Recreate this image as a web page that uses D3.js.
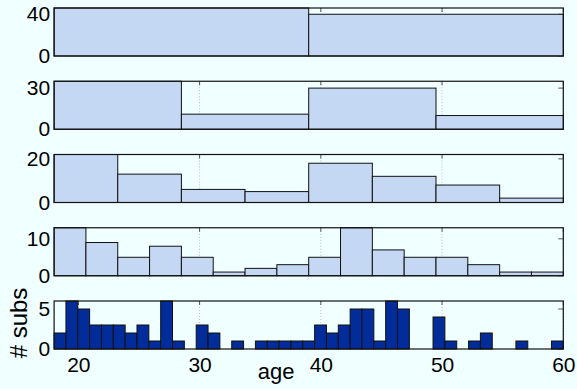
<!DOCTYPE html>
<html>
<head>
<meta charset="utf-8">
<script src="https://cdn.jsdelivr.net/npm/d3@7"></script>
<style>
  body { margin: 0; background: #f0ffff; }
  text { font-family: "Liberation Sans", Arial, Helvetica, sans-serif; fill: #000; }
</style>
</head>
<body>
<script>
// age histograms of the same subjects, binned 2, 4, 8, 16 and 43 ways
const ageMin = 18, ageMax = 60;
const counts2 = [46, 40];
const counts4 = [35, 11, 30, 10];
const counts8 = [22, 13, 6, 5, 18, 12, 8, 2];
const counts16 = [13, 9, 5, 8, 5, 1, 2, 3, 5, 13, 7, 5, 5, 3, 1, 1];
const counts43 = [2, 6, 5, 3, 3, 3, 2, 3, 1, 6, 1, 0, 3, 2, 0, 1, 0, 1, 1, 1,
                  1, 1, 3, 2, 3, 5, 5, 1, 6, 5, 0, 0, 4, 1, 0, 1, 2, 0, 0, 1,
                  0, 0, 1];
const panelCounts = [counts2, counts4, counts8, counts16, counts43];
const yMaxes = [46, 35, 22, 13, 6];
const yTickVals = [[0, 40], [0, 30], [0, 20], [0, 10], [0, 5]];
const xTickVals = [20, 30, 40, 50, 60];
const xLabel = "age", yLabel = "# subs";

let margin = null, width = null, panelH = null, panelStep = null;
let svg = null;
let x = null;

setupCanvasSize();
appendSvg("body");
setupXScale();
panelCounts.forEach((counts, i) => drawPanel(counts, i));
appendLabels();

function setupCanvasSize() {
  margin = {top: 8, left: 54.1, right: 13.7};
  width = 577 - margin.left - margin.right;
  panelH = 48;
  panelStep = 73.25;
}

function appendSvg(domElement) {
  svg = d3.select(domElement).append("svg")
    .attr("width", 577)
    .attr("height", 389)
    .style("display", "block")
    .append("g")
    .attr("transform", `translate(${margin.left}, ${margin.top})`);
}

function setupXScale() {
  x = d3.scaleLinear().domain([ageMin, ageMax]).range([0, width]);
}

function drawPanel(counts, i) {
  const last = i === panelCounts.length - 1;
  const g = svg.append("g").attr("transform", `translate(0, ${i * panelStep})`);
  const y = d3.scaleLinear().domain([0, yMaxes[i]]).range([panelH, 0]);
  const binW = (ageMax - ageMin) / counts.length;
  const bins = counts.map((c, k) => ({x0: ageMin + k * binW, x1: ageMin + (k + 1) * binW, n: c}));

  // dotted grid (under the bars)
  g.append("g").selectAll("line")
    .data(xTickVals)
    .enter().append("line")
    .attr("x1", d => x(d)).attr("x2", d => x(d))
    .attr("y1", 0).attr("y2", panelH)
    .attr("stroke", "#a8a8a8")
    .attr("stroke-width", 0.8)
    .attr("stroke-dasharray", "1,2");

  // inward ticks on top / right
  g.append("g").selectAll("line")
    .data(xTickVals)
    .enter().append("line")
    .attr("x1", d => x(d)).attr("x2", d => x(d))
    .attr("y1", 0).attr("y2", 4)
    .attr("stroke", "#555");
  g.append("g").selectAll("line")
    .data(yTickVals[i])
    .enter().append("line")
    .attr("x1", width).attr("x2", width - 5)
    .attr("y1", d => y(d)).attr("y2", d => y(d))
    .attr("stroke", "#555");

  g.append("g").selectAll("rect")
    .data(bins)
    .enter().append("rect")
    .attr("x", d => x(d.x0))
    .attr("y", d => y(d.n))
    .attr("width", d => x(d.x1) - x(d.x0))
    .attr("height", d => panelH - y(d.n))
    .attr("fill", last ? "#022c99" : "#c5d8f3")
    .attr("stroke", "#111")
    .attr("stroke-width", 1);

  // box
  g.append("rect")
    .attr("x", 0).attr("y", 0)
    .attr("width", width).attr("height", panelH)
    .attr("fill", "none")
    .attr("stroke", "#111")
    .attr("stroke-width", 1.2);

  const yAxis = d3.axisLeft(y).tickValues(yTickVals[i]).tickFormat(d3.format("d"))
    .tickSize(0).tickPadding(4);
  const ya = g.append("g").call(yAxis);
  ya.select(".domain").remove();
  ya.selectAll("text").style("font-size", "21px");

  if (last) {
    const xAxis = d3.axisBottom(x).tickValues(xTickVals).tickFormat(d3.format("d"))
      .tickSize(0).tickPadding(8);
    const xa = g.append("g").attr("transform", `translate(0, ${panelH})`).call(xAxis);
    xa.select(".domain").remove();
    xa.selectAll("text").style("font-size", "21px");
  }
}

function appendLabels() {
  const base = 4 * panelStep;
  svg.append("text")
    .attr("x", 222)
    .attr("y", base + panelH + 30)
    .attr("text-anchor", "middle")
    .style("font-size", "22px")
    .text(xLabel);

  svg.append("text")
    .attr("transform", `translate(${-27}, ${base + panelH / 2 - 2}) rotate(-90)`)
    .attr("text-anchor", "middle")
    .style("font-size", "24px")
    .text(yLabel);
}
</script>
</body>
</html>
